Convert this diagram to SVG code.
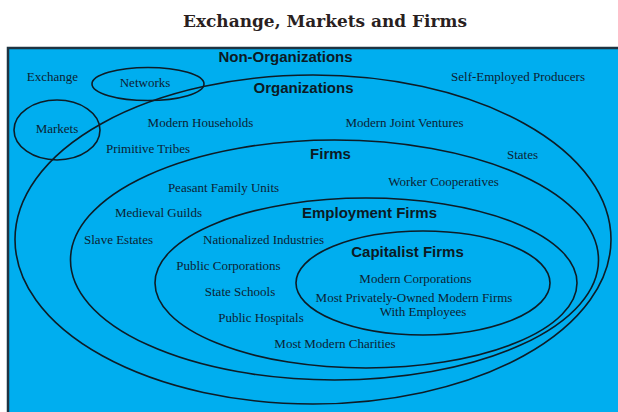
<svg xmlns="http://www.w3.org/2000/svg" width="618" height="412" viewBox="0 0 618 412">
<style>
.ring{fill:none;stroke:#0d1c26;stroke-width:1.6}
.item{font-family:"Liberation Serif","Times New Roman",serif;font-size:13px;fill:#0c2233;text-anchor:middle}
.head{font-family:"Liberation Sans",Arial,sans-serif;font-size:15px;font-weight:bold;fill:#0c1a24;text-anchor:middle}
</style>
<rect x="0" y="0" width="618" height="412" fill="#ffffff"/>
<text x="325" y="27" font-family="DejaVu Serif, Liberation Serif, serif" font-size="17.5" font-weight="bold" fill="#2a1f1f" text-anchor="middle" textLength="284" lengthAdjust="spacingAndGlyphs">Exchange, Markets and Firms</text>
<rect x="8" y="48" width="620" height="380" fill="#00aeef" stroke="#1e3442" stroke-width="2.5"/>
<g id="non-organizations">
<text class="head" x="285.5" y="62">Non-Organizations</text>
<text class="item" x="52.5" y="81">Exchange</text>
<text class="item" x="518" y="81">Self-Employed Producers</text>
</g>
<g id="organizations">
<ellipse class="ring" cx="313" cy="239.5" rx="298" ry="164.5"/>
<text class="head" x="303.5" y="93">Organizations</text>
<text class="item" x="200.5" y="127">Modern Households</text>
<text class="item" x="148" y="153">Primitive Tribes</text>
<text class="item" x="404.5" y="127">Modern Joint Ventures</text>
<text class="item" x="522.5" y="159">States</text>
</g>
<g id="firms">
<ellipse class="ring" cx="334.5" cy="260" rx="264" ry="120"/>
<text class="head" x="330.5" y="159">Firms</text>
<text class="item" x="223.5" y="192">Peasant Family Units</text>
<text class="item" x="443.5" y="186">Worker Cooperatives</text>
<text class="item" x="158.5" y="217">Medieval Guilds</text>
<text class="item" x="118.5" y="244">Slave Estates</text>
</g>
<g id="employment-firms">
<ellipse class="ring" cx="366" cy="283" rx="211" ry="85"/>
<text class="head" x="369.5" y="218">Employment Firms</text>
<text class="item" x="263.5" y="244">Nationalized Industries</text>
<text class="item" x="228.5" y="270">Public Corporations</text>
<text class="item" x="240" y="296">State Schools</text>
<text class="item" x="261" y="322">Public Hospitals</text>
<text class="item" x="335" y="348">Most Modern Charities</text>
</g>
<g id="capitalist-firms">
<ellipse class="ring" cx="423" cy="283" rx="127" ry="52"/>
<text class="head" x="407.5" y="257">Capitalist Firms</text>
<text class="item" x="415.5" y="283">Modern Corporations</text>
<text class="item" x="414" y="302">Most Privately-Owned Modern Firms</text>
<text class="item" x="423" y="316">With Employees</text>
</g>
<g id="networks">
<ellipse class="ring" cx="148" cy="84" rx="56" ry="16.5"/>
<text class="item" x="145" y="87">Networks</text>
</g>
<g id="markets">
<ellipse class="ring" cx="57" cy="130" rx="43" ry="30"/>
<text class="item" x="57" y="133">Markets</text>
</g>
<g id="connectors"/>
</svg>
